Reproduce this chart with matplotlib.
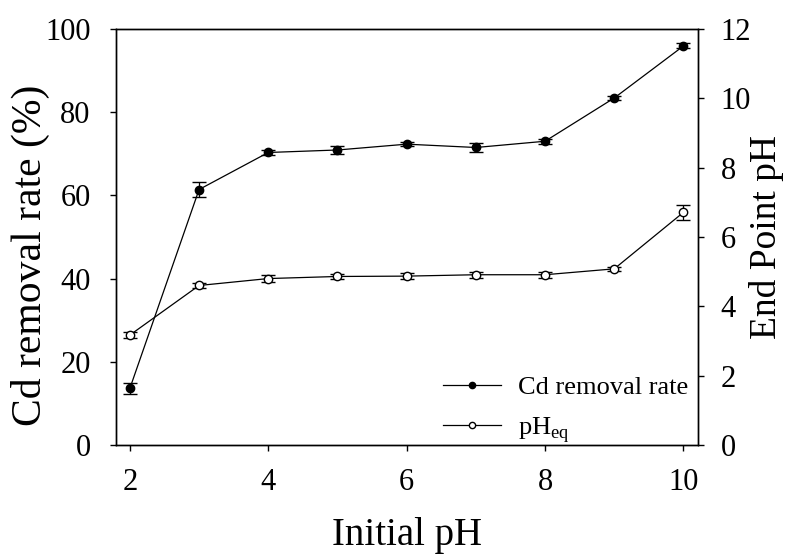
import matplotlib
matplotlib.use("Agg")
import matplotlib.pyplot as plt

plt.rcParams['font.family'] = ['Liberation Serif', 'DejaVu Serif']
plt.rcParams['mathtext.fontset'] = 'custom'
plt.rcParams['mathtext.rm'] = 'Liberation Serif'

initial_ph = [2, 3, 4, 5, 6, 7, 8, 9, 10]
cd_removal = [13.6, 61.4, 70.3, 70.9, 72.3, 71.5, 73.0, 83.4, 95.9]
cd_err = [1.3, 1.8, 0.5, 1.0, 0.5, 1.0, 0.6, 0.4, 0.6]
ph_eq = [3.17, 4.6, 4.8, 4.86, 4.87, 4.91, 4.91, 5.08, 6.71]
ph_err = [0.08, 0.08, 0.1, 0.08, 0.08, 0.08, 0.08, 0.05, 0.22]

fig = plt.figure(figsize=(7.92, 5.54), dpi=100)
ax1 = fig.add_axes([0.1465, 0.1968, 0.7348, 0.751])
ax2 = ax1.twinx()

l1 = ax1.errorbar(initial_ph, cd_removal, yerr=cd_err, color='black', marker='o', ms=6,
                  mfc='black', mec='black', lw=0.9, capsize=5, elinewidth=0.9)
l2 = ax2.errorbar(initial_ph, ph_eq, yerr=ph_err, color='black', marker='o', ms=6,
                  mfc='white', mec='black', lw=0.9, capsize=5, elinewidth=0.9)

ax1.set_xlim(1.8, 10.21)
ax1.set_ylim(0, 100)
ax2.set_ylim(0, 12)
ax1.set_xticks([2, 4, 6, 8, 10])
ax1.set_yticks([0, 20, 40, 60, 80, 100])
ax2.set_yticks([0, 2, 4, 6, 8, 10, 12])

for ax in (ax1, ax2):
    ax.tick_params(direction='out', length=4.3, width=1, labelsize=22, pad=12)
    for s in ax.spines.values():
        s.set_linewidth(1)
ax1.tick_params(axis='y', pad=14)

ax1.set_xlabel('Initial pH', fontsize=28)
ax1.set_ylabel('Cd removal rate (%)', fontsize=30)
ax2.set_ylabel('End Point pH', fontsize=27)
ax1.xaxis.set_label_coords(0.5, -0.172)
ax1.yaxis.set_label_coords(-0.113, 0.455)
ax2.yaxis.set_label_coords(1.088, 0.5)

ax1.legend([l1[0], l2[0]], ['Cd removal rate', 'pH$_{\\mathrm{eq}}$'], loc='lower right',
           frameon=False, fontsize=19, handlelength=2.2, handletextpad=0.65,
           borderaxespad=0, borderpad=0, labelspacing=0.6, markerscale=0.75,
           bbox_to_anchor=(0.983, 0.0))

fig.savefig('out.png', dpi=100)
